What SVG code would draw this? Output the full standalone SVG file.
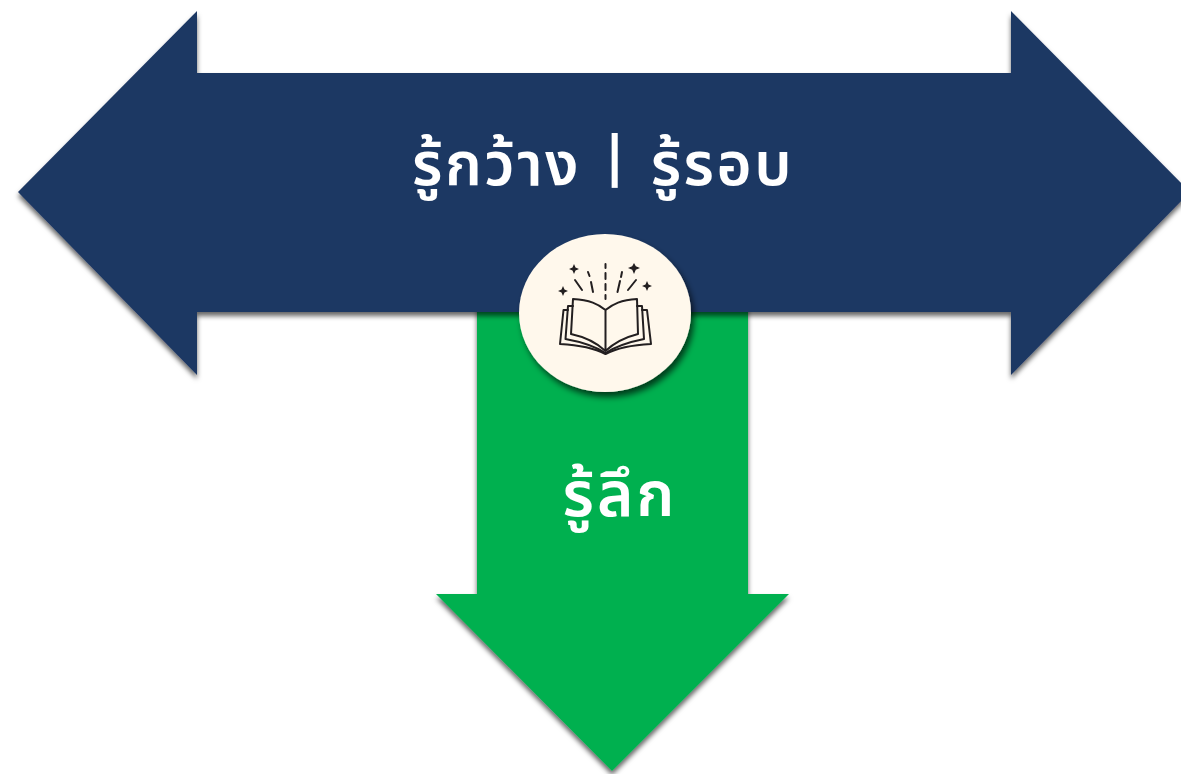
<svg xmlns="http://www.w3.org/2000/svg" width="1181" height="774" viewBox="0 0 1181 774">
<defs>
<filter id="sh" x="-10%" y="-10%" width="120%" height="120%"><feDropShadow dx="0" dy="4" stdDeviation="2.500" flood-color="#000" flood-opacity="0.6"/></filter>
<filter id="sh2" x="-20%" y="-20%" width="140%" height="140%"><feDropShadow dx="3" dy="5" stdDeviation="3" flood-color="#000" flood-opacity="0.65"/></filter>
</defs>
<style>
text{font-family:"Noto Sans Thai","Noto Sans","DejaVu Sans","Liberation Sans",sans-serif;font-weight:600;fill:#fff;text-anchor:middle}
.i{fill:none;stroke:#231f20;stroke-width:2;stroke-linejoin:round;stroke-linecap:round}
.s{fill:#231f20;stroke:none}
</style>
<rect width="1181" height="774" fill="#fff"/>
<g id="node-down">
<polygon points="477,300 748,300 748,594 789,594 612,771 436,594 477,594" fill="#00b050" filter="url(#sh)"/>
<text x="620" y="516" font-size="62" letter-spacing="3">รู้ลึก</text>
</g>
<g id="node-wide">
<polygon points="18,192 197,11 197,73 1011,73 1011,11 1190,192 1011,375 1011,312 197,312 197,375" fill="#1f3864" filter="url(#sh)"/>
<text x="603" y="185" font-size="60" letter-spacing="2.500">รู้กว้าง <tspan font-size="56" font-weight="700" dy="-10">|</tspan><tspan dy="10"> รู้รอบ</tspan></text>
</g>
<g id="node-book">
<ellipse cx="605" cy="313" rx="86" ry="79" fill="#fff8ec" filter="url(#sh2)"/>
<path class="i" d="M605.500 310 C598 304 590 300 573 299 L571 334 C585 337 597 343 605.500 351 C614 343 626 337 638 334 L637 299 C621 300 613 304 605.500 310 Z M605.500 310 V351"/>
<path class="i" d="M573 306 H568 L565.500 339 C582 342 596 347 605.500 353 C615 347 629 342 644 339 L642 306 H637"/>
<path class="i" d="M568 310 H563.500 L560 344 C578 345 596 349 605.500 354 C615 349 632 345 651 344 L647 310 H642"/>
<path class="i" d="M605.500 264 V268 M605.500 273 V279 M605.500 284 V290 M605.500 295 V299"/>
<path class="i" d="M575 280 L582 290 M588 272 L589.500 276 M591 282 L593 292 M622 272 L621 277 M620 281 L617.500 292 M636 280 L628 290"/>
<path class="s" d="M574 264 L575.500 267.500 L579 269 L575.500 270.500 L574 274 L572.500 270.500 L569 269 L572.500 267.500 Z M563 286 L564.500 289.500 L568 291 L564.500 292.500 L563 296 L561.500 292.500 L558 291 L561.500 289.500 Z M634 263 L635.800 266.200 L640 268 L635.800 269.800 L634 274 L632.200 269.800 L628 268 L632.200 266.200 Z M647 281 L648.500 284.500 L652 286 L648.500 287.500 L647 291 L645.500 287.500 L642 286 L645.500 284.500 Z"/>
</g>
</svg>
